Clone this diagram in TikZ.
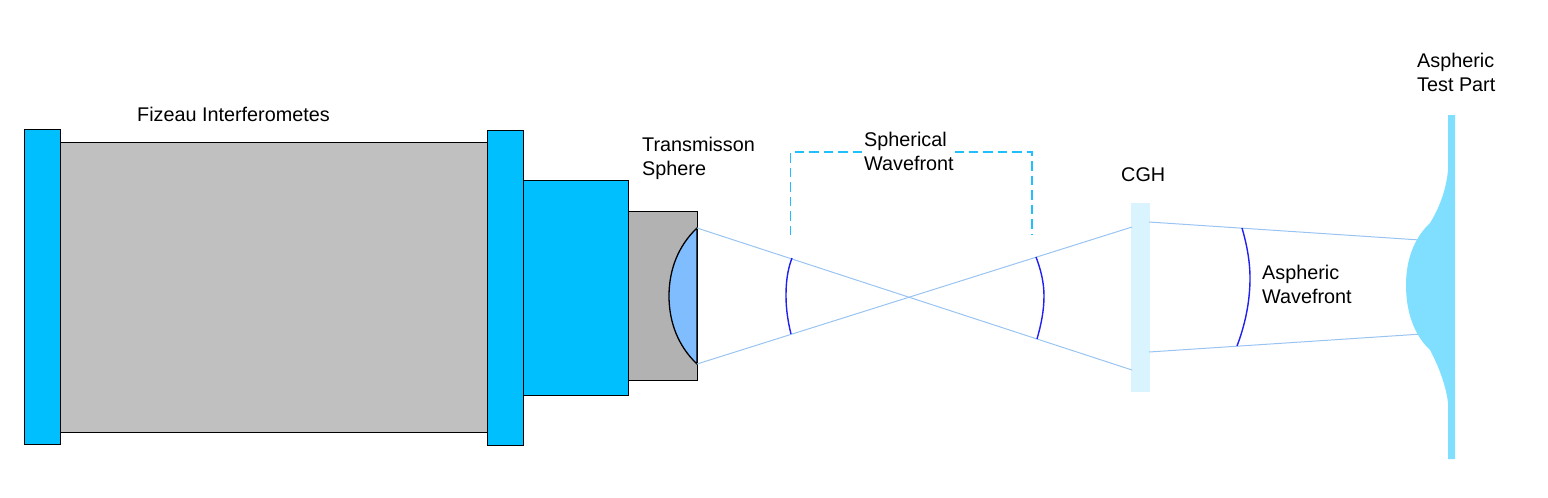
\documentclass[tikz,border=0pt]{standalone}
\usepackage{fontspec}
\setmainfont{Liberation Sans}
\definecolor{flange}{HTML}{00BFFF}
\definecolor{bodygray}{HTML}{C0C0C0}
\definecolor{tsgray}{HTML}{B2B2B2}
\definecolor{lensblue}{HTML}{80BDFF}
\definecolor{raycol}{HTML}{99C4F2}
\definecolor{wavecol}{HTML}{2020F0}
\definecolor{cghcol}{HTML}{D9F4FF}
\definecolor{partcol}{HTML}{80DFFF}
\definecolor{dashcol}{HTML}{20C0FF}
\tikzset{
  part/.style={draw=black,line width=1pt},
  ray/.style={draw=raycol,line width=1pt},
  wave/.style={draw=wavecol,line width=1.4pt},
  label/.style={font=\fontsize{19.8}{24}\selectfont,align=left,anchor=north west,inner sep=0pt},
  guide/.style={draw=dashcol,line width=1.2pt,dash pattern=on 9.5pt off 5pt},
}
\begin{document}
\begin{tikzpicture}[x=1pt,y=-1pt]
\useasboundingbox (0,0) rectangle (1548,498);
% housings
\filldraw[part,fill=bodygray] (60,142) rectangle (487,432);
\filldraw[part,fill=flange] (24,129) rectangle (60,444);
\filldraw[part,fill=flange] (487,130) rectangle (523,445);
\filldraw[part,fill=flange] (523,180) rectangle (628,395);
\filldraw[part,fill=tsgray] (628,211) rectangle (697,380);
% lens
\coordinate (lensT) at (697,228);
\coordinate (lensB) at (697,364);
\filldraw[part,line width=1.3pt,fill=lensblue] (lensT) .. controls (678,246) and (669,270) .. (669,296) .. controls (669,322) and (678,346) .. (lensB) -- cycle;
% CGH
\fill[cghcol] (1131,203) rectangle (1150,392);
% rays
\coordinate (cghT) at (1132,227);
\coordinate (cghB) at (1132,370);
\coordinate (cghOutT) at (1149,222);
\coordinate (cghOutB) at (1149,352);
\coordinate (partT) at (1420,240);
\coordinate (partB) at (1422,334);
\draw[ray] (lensT) -- (cghB);
\draw[ray] (lensB) -- (cghT);
\draw[ray] (cghOutT) -- (partT);
\draw[ray] (cghOutB) -- (partB);
% test part
\fill[partcol] (1448,115) -- (1455,115) -- (1455,459) -- (1448,459) -- (1448,403)
  .. controls (1446,385) and (1438,365) .. (1430,350)
  .. controls (1414,335) and (1406,312) .. (1406,285)
  .. controls (1406,260) and (1414,238) .. (1430,223)
  .. controls (1438,210) and (1446,192) .. (1448,170) -- cycle;
% wavefronts
\draw[wave] (792,258) .. controls (787,271) and (786,284) .. (786,296) .. controls (786,309) and (788,322) .. (791,334);
\draw[wave] (1036,257) .. controls (1041,270) and (1044,283) .. (1044,296) .. controls (1044,311) and (1041,325) .. (1037,339);
\draw[wave] (1242,228) .. controls (1247,245) and (1250,262) .. (1250,278) .. controls (1250,302) and (1245,325) .. (1237,346);
% guide
\coordinate (gL) at (790.5,235);
\coordinate (gLT) at (790.5,152);
\coordinate (gRT) at (1032,152);
\coordinate (gR) at (1032,235);
\draw[guide] (gL) -- (gLT) -- (gRT) -- (gR);
% labels
\node[label] (fiz) at (137,107) {Fizeau Interferometes};
\node[label] (ts) at (642,137) {Transmisson\\Sphere};
\node[label,fill=white,inner xsep=1pt] (sw) at (863,132) {Spherical\\Wavefront};
\node[label] (cgh) at (1121,167) {CGH};
\node[label] (aw) at (1262,265) {Aspheric\\Wavefront};
\node[label] (atp) at (1417,53) {Aspheric\\Test Part};
\end{tikzpicture}
\end{document}
